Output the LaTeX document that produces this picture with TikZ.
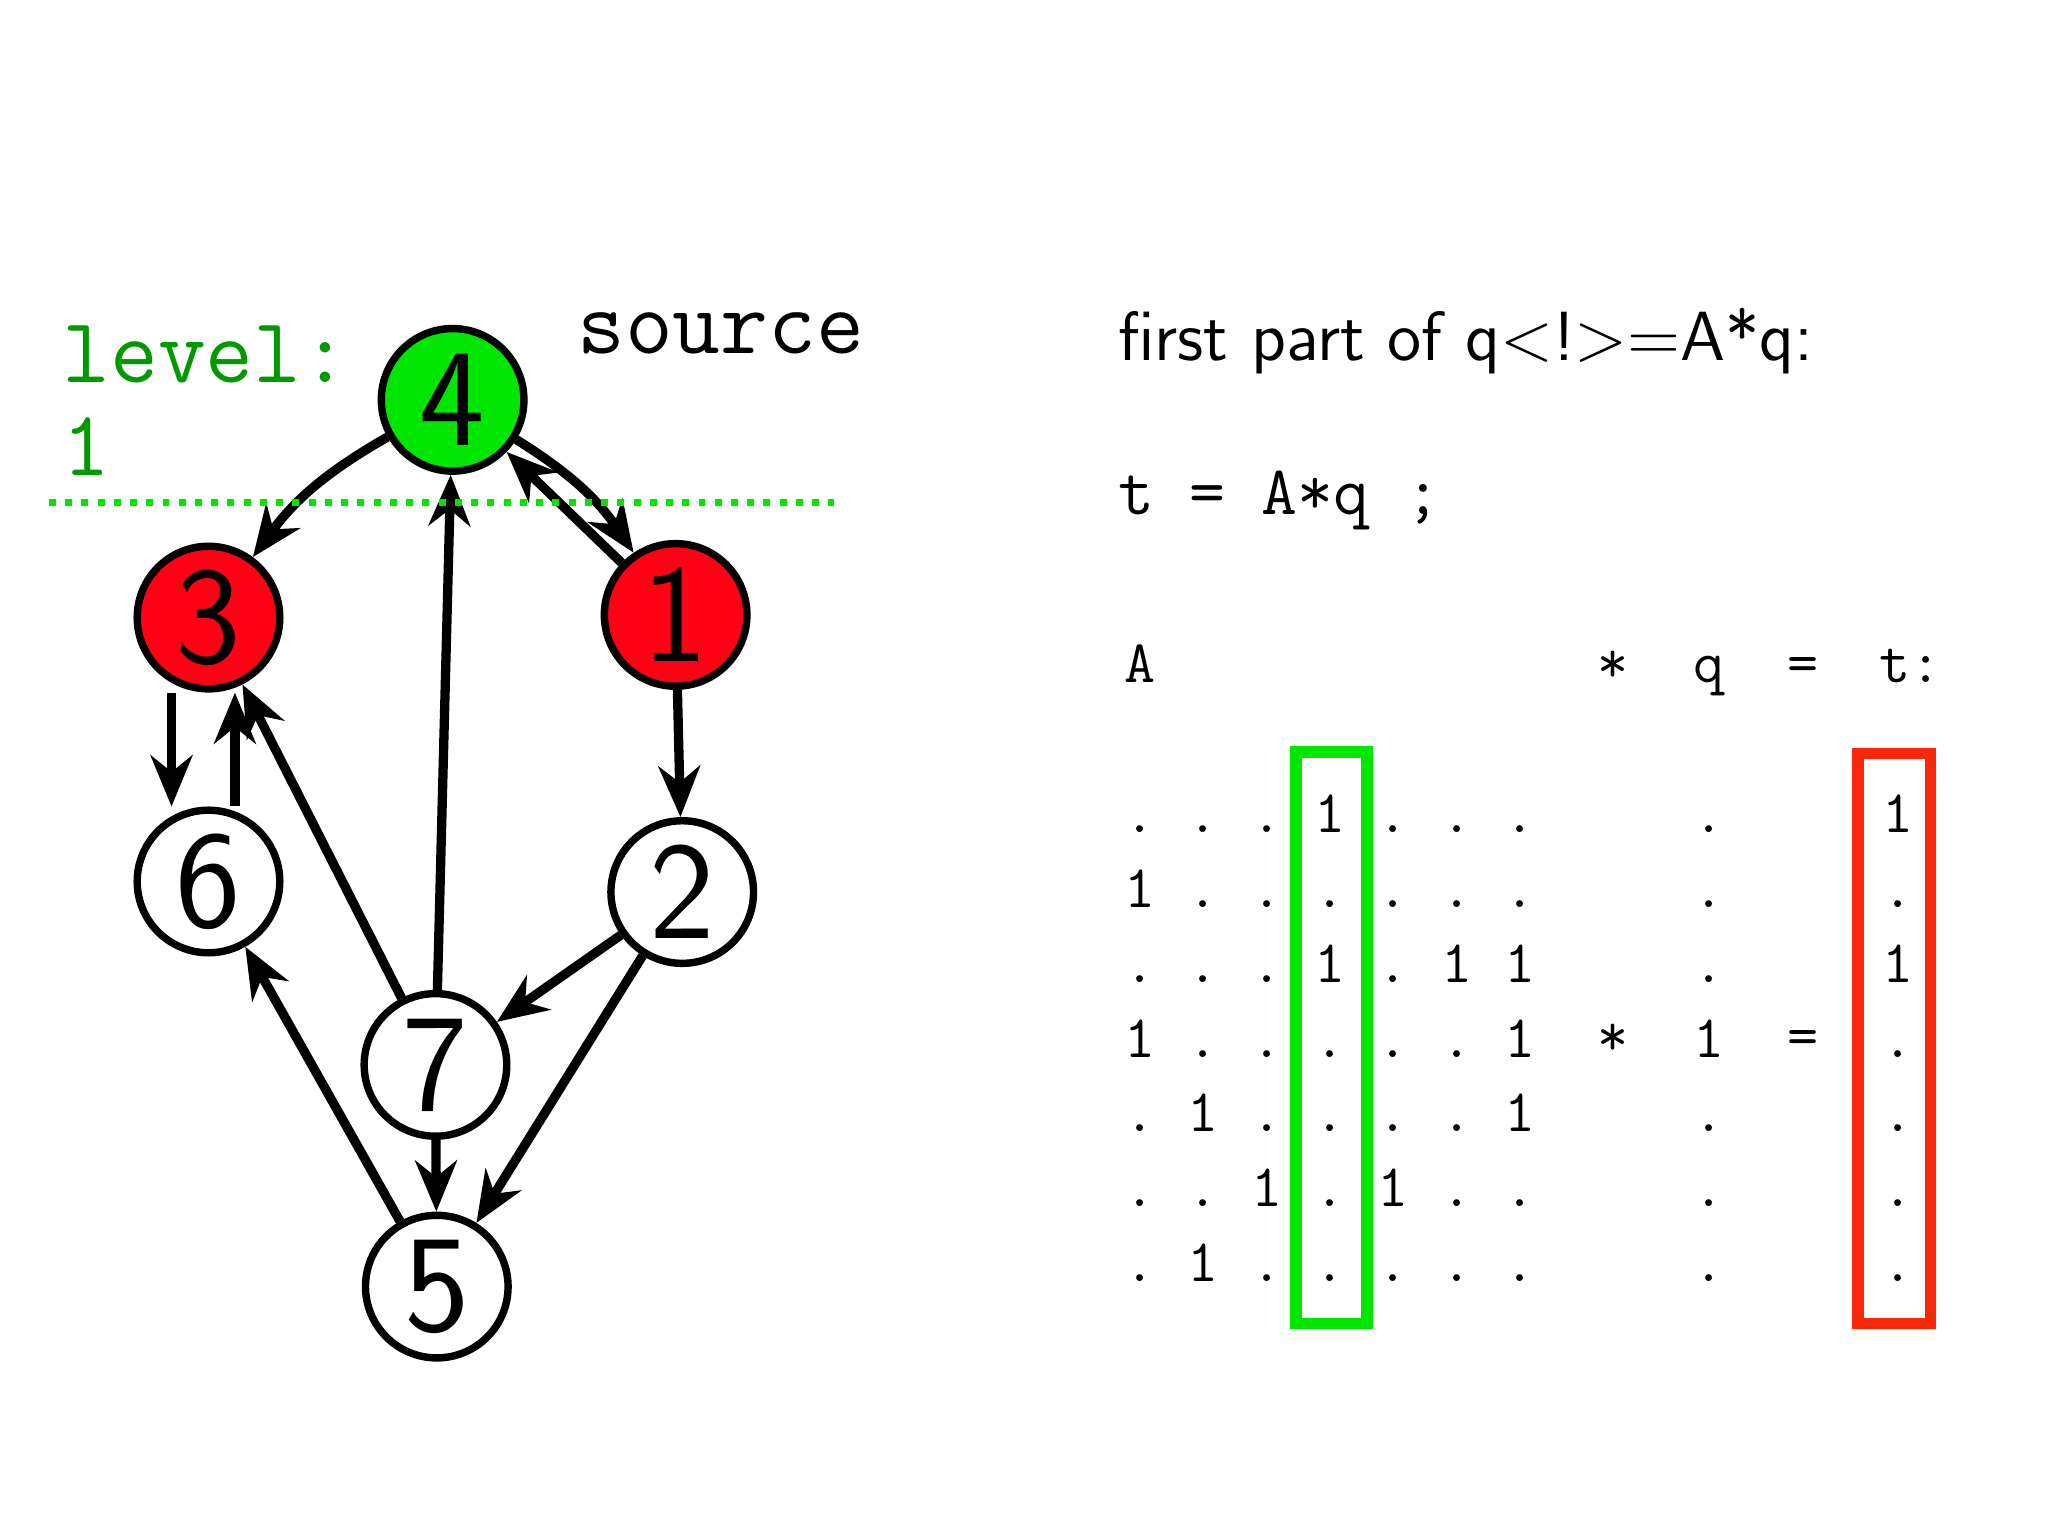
\documentclass[tikz,border=0pt]{standalone}
\usetikzlibrary{arrows.meta}
\definecolor{gr}{RGB}{0,230,0}
\definecolor{rd}{RGB}{255,0,20}
\definecolor{rr}{RGB}{250,40,10}
\begin{document}
\begin{tikzpicture}[x=0.01cm,y=-0.01cm,
 v/.style={circle,draw,line width=1.6pt,minimum size=1.08cm,inner sep=0pt,font=\sffamily\fontsize{30}{30}\selectfont},
 e/.style={-{Stealth[length=11pt,width=9pt]},line width=2pt},
 m/.style={font=\ttfamily\fontsize{13}{13}\selectfont,anchor=base}]
\useasboundingbox (0,0) rectangle (1552,1164);
\node[v,fill=gr] (n4) at (343,303) {4};
\node[v,fill=rd] (n3) at (158,468) {3};
\node[v,fill=rd] (n1) at (512,466) {1};
\node[v] (n6) at (158,668) {6};
\node[v] (n2) at (517,676) {2};
\node[v] (n7) at (330,807) {7};
\node[v] (n5) at (331,975) {5};
\draw[e] (n4) to[bend right=12] (n3);
\draw[e] (n4) to[bend left=12] (n1);
\draw[e] (n1) -- (n4);
\draw[e] (n7) -- (n4);
\draw[e] (n7) -- (n3);
\draw[e] ([xshift=-0.28cm]n3.south) -- ([xshift=-0.28cm]n6.north);
\draw[e] ([xshift=0.2cm]n6.north) -- ([xshift=0.2cm]n3.south);
\draw[e] (n1) -- (n2);
\draw[e] (n2) -- (n7);
\draw[e] (n2) -- (n5);
\draw[e] (n7) -- (n5);
\draw[e] (n5) -- (n6);
\draw[gr,dotted,line width=1.5pt] (37,381) -- (632,381);
\node[text=green!60!black,font=\ttfamily\fontsize{20}{20}\selectfont,anchor=base west] (lv) at (35,290) {level:};
\node[text=green!60!black,font=\ttfamily\fontsize{20}{20}\selectfont,anchor=base west] (l1) at (35,360) {1};
\node[font=\ttfamily\fontsize{20}{20}\selectfont,anchor=base west] (src) at (425,268) {source};
\node[font=\sffamily\fontsize{15}{15}\selectfont,anchor=base west] (fp) at (835,273) {first part of q<!>=A*q:};
\node[font=\ttfamily\fontsize{15}{15}\selectfont,anchor=base west] (tq) at (835,390) {t = A*q ;};
\node[m] (hA) at (864,517) {A};
\node[m] (hs) at (1222,517) {*};
\node[m] (hq) at (1295,517) {q};
\node[m] (he) at (1366,517) {=};
\node[m] (ht) at (1448,517) {t:};
\foreach \r [count=\i] in {{.,.,.,1,.,.,.,.,1},{1,.,.,.,.,.,.,.,.},{.,.,.,1,.,1,1,.,1},{1,.,.,.,.,.,1,1,.},{.,1,.,.,.,.,1,.,.},{.,.,1,.,1,.,.,.,.},{.,1,.,.,.,.,.,.,.}}{
 \foreach \c [count=\j] in \r {
  \pgfmathsetmacro\yy{620+56.7*(\i-1)+11}
  \ifnum\j<8 \pgfmathsetmacro\xx{864+48*(\j-1)}\fi
  \ifnum\j=8 \def\xx{1295}\fi
  \ifnum\j=9 \def\xx{1438}\fi
  \node[m] (c\i\j) at (\xx,\yy) {\c};
 }}
\node[m] (ms) at (1222,800) {*};
\node[m] (me) at (1366,800) {=};
\draw[gr,line width=2.5pt] (982,570) rectangle (1036,1003);
\draw[rr,line width=2.5pt] (1408,571) rectangle (1463,1003);
\end{tikzpicture}
\end{document}
